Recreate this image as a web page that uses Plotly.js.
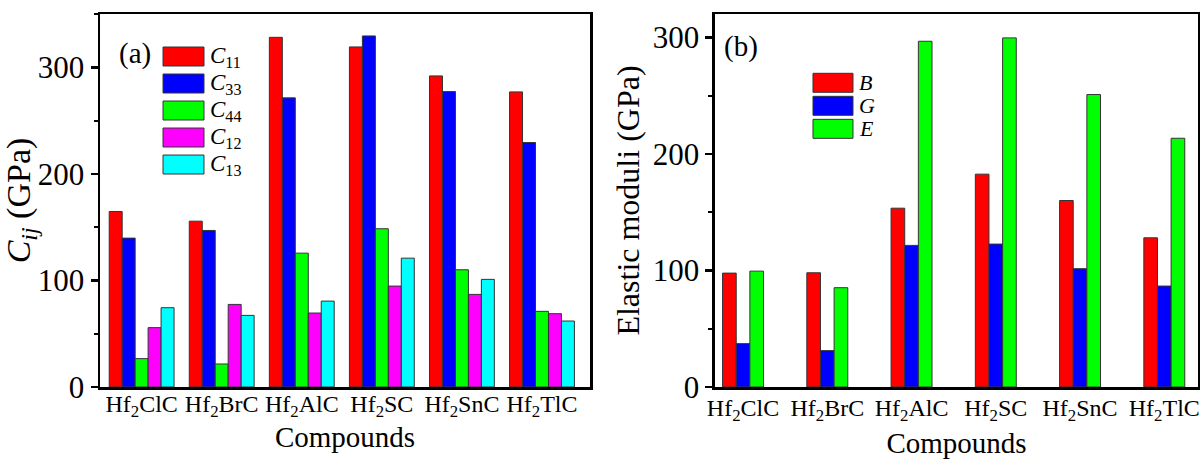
<!DOCTYPE html>
<html>
<head>
<meta charset="utf-8">
<script src="https://cdn.plot.ly/plotly-3.0.1.min.js"></script>
<style>html,body{margin:0;padding:0;background:#fff;}#chart{width:1200px;height:459px;}</style>
</head>
<body>
<div id="chart"></div>
<script>
// ---- data ----
var compounds = ["Hf<sub>2</sub>ClC", "Hf<sub>2</sub>BrC", "Hf<sub>2</sub>AlC", "Hf<sub>2</sub>SC", "Hf<sub>2</sub>SnC", "Hf<sub>2</sub>TlC"];

var cNames = ["<i>C</i><sub>11</sub>", "<i>C</i><sub>33</sub>", "<i>C</i><sub>44</sub>", "<i>C</i><sub>12</sub>", "<i>C</i><sub>13</sub>"];
var C11 = [164.7, 155.6, 328.1, 319.1, 291.9, 276.9];
var C33 = [139.7, 146.9, 271.3, 329.4, 277.2, 229.4];
var C44 = [26.6, 21.6, 125.6, 148.5, 110.0, 71.0];
var C12 = [55.7, 77.5, 69.4, 94.7, 86.9, 68.8];
var C13 = [74.4, 67.2, 80.6, 120.9, 101.0, 61.9];

var mNames = ["<i>B</i>", "<i>G</i>", "<i>E</i>"];
var B = [97.7, 98.0, 153.4, 182.6, 160.0, 128.0];
var G = [37.2, 31.2, 121.5, 122.6, 101.5, 86.6];
var E = [99.4, 85.2, 296.6, 299.5, 250.9, 213.4];

var colorsA = ["#FF0000", "#0000FF", "#00FF00", "#FF00FF", "#00FFFF"];
var colorsB = ["#FF0000", "#0000FF", "#00FF00"];

// ---- traces ----
var serif = "Liberation Serif, Times New Roman, serif";
var outline = {color: "#333333", width: 1};
var barW = 0.162;
var x = compounds.map(function(_, i){ return i; });
var data = [];
function addGroup(series, names, colors, xa, ya){
  var n = series.length;
  series.forEach(function(v, i){
    data.push({type: "bar", x: x, y: v, name: names[i], xaxis: xa, yaxis: ya,
      width: barW, offset: -n*barW/2 + i*barW,
      marker: {color: colors[i], line: outline}, showlegend: false});
  });
}
addGroup([C11, C33, C44, C12, C13], cNames, colorsA, "x", "y");
addGroup([B, G, E], mNames, colorsB, "x2", "y2");

// ---- custom legends (large swatches) ----
var shapes = [], annotations = [];
function addLegend(names, colors, xref, yref, x0, x1, yTop, h, pitch, tx, fsize){
  names.forEach(function(n, i){
    var yt = yTop - i*pitch;
    shapes.push({type: "rect", xref: xref, yref: yref, x0: x0, x1: x1, y0: yt - h, y1: yt,
      fillcolor: colors[i], line: {color: "#333333", width: 1}});
    annotations.push({xref: xref, yref: yref, x: tx, y: yt - h/2, xanchor: "left", yanchor: "middle",
      text: n, showarrow: false, font: {family: serif, size: fsize, color: "#000"}});
  });
}
addLegend(cNames, colorsA, "x domain", "y domain", 0.1286, 0.2122, 0.9115, 0.0509, 0.0724, 0.2204, 23);
addLegend(mNames, colorsB, "x2 domain", "y2 domain", 0.2029, 0.2857, 0.8410, 0.0509, 0.0617, 0.2940, 22);

annotations.push({xref: "x domain", yref: "y domain", x: 0.034, y: 0.893, xanchor: "left", yanchor: "middle",
  text: "(a)", showarrow: false, font: {family: serif, size: 29, color: "#000"}});
annotations.push({xref: "x2 domain", yref: "y2 domain", x: 0.014, y: 0.914, xanchor: "left", yanchor: "middle",
  text: "(b)", showarrow: false, font: {family: serif, size: 29, color: "#000"}});

function yax(range, title, anchor, tsize){
  return {range: range, anchor: anchor, showline: true, mirror: true, linewidth: 2.5, linecolor: "#000",
    ticks: "outside", ticklen: 7, tickwidth: 2.5, tickcolor: "#000", dtick: 100, tick0: 0,
    minor: {dtick: 50, ticks: "outside", ticklen: 4, tickwidth: 2, tickcolor: "#000"},
    showgrid: false, zeroline: false, automargin: false,
    tickfont: {family: serif, size: 31, color: "#000"},
    title: {text: title, font: {family: serif, size: tsize, color: "#000"}}};
}
function xax(domain, range, anchor, lblOff, standoff){
  return {domain: domain, range: range, anchor: anchor, showline: true, mirror: true, linewidth: 2.5, linecolor: "#000",
    ticks: "", showgrid: false, zeroline: false, automargin: false,
    tickmode: "array", tickvals: x, ticktext: compounds, ticklabelstandoff: lblOff,
    tickfont: {family: serif, size: 24, color: "#000"},
    title: {text: "Compounds", font: {family: serif, size: 29, color: "#000"}, standoff: standoff}};
}

var layout = {
  width: 1200, height: 459,
  margin: {l: 100, r: 2, t: 14, b: 72},
  paper_bgcolor: "#fff", plot_bgcolor: "#fff",
  barmode: "overlay",
  xaxis: xax([0, 0.4463], [-0.52, 5.6], "y", -6, 0),
  yaxis: yax([0, 350], "<i>C</i><sub><i>ij</i></sub> (GPa)", "x", 34),
  xaxis2: xax([0.5601, 1.0], [-0.333, 5.4], "y2", -2, 14),
  yaxis2: yax([0, 320], "Elastic moduli (GPa)", "x2", 32),
  shapes: shapes, annotations: annotations, showlegend: false
};

Plotly.newPlot("chart", data, layout, {staticPlot: true, displayModeBar: false});
</script>
</body>
</html>
